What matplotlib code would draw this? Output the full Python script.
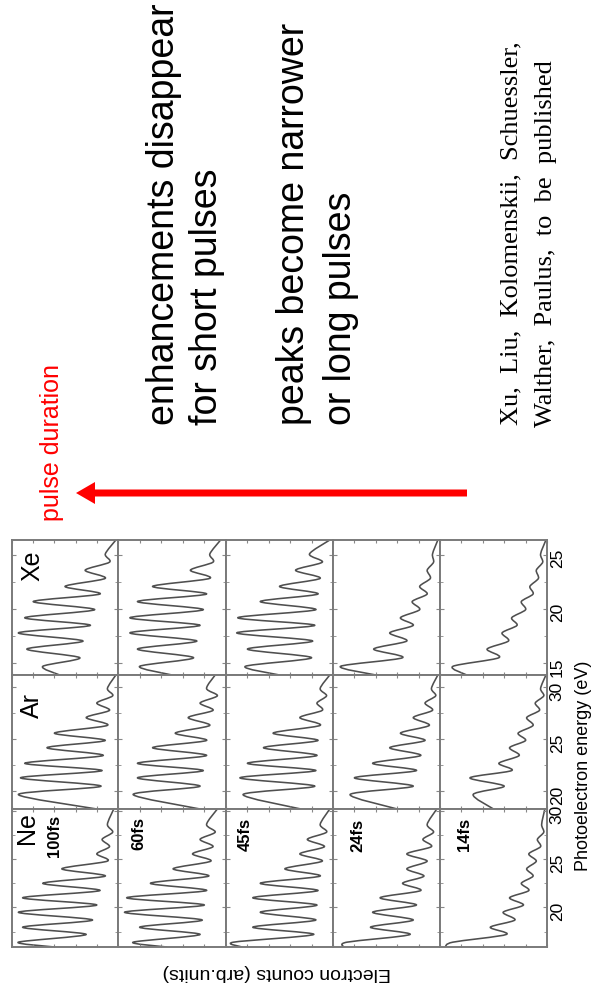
import matplotlib
matplotlib.use("Agg")
import matplotlib.pyplot as plt
from matplotlib.path import Path
from matplotlib.patches import PathPatch
from matplotlib.ticker import MultipleLocator

# ---------------------------------------------------------------- data
GASES = ["Xe", "Ar", "Ne"]
DURATIONS = ["100fs", "60fs", "45fs", "24fs", "14fs"]

# photoelectron energy (eV) of the ATI peaks and of the minima between them
# (first/last minimum entries are the ends of the recorded range)
XE_PEAK_EV = [25.1, 23.6, 22.1, 20.7, 19.2, 17.8, 16.3, 14.7]
XE_MIN_EV = [26.4, 24.35, 22.85, 21.4, 19.95, 18.5, 17.05, 15.5, 13.9]
AR_PEAK_EV = [29.9, 28.5, 27.1, 25.6, 24.2, 22.7, 21.3, 19.7]
AR_MIN_EV = [31.2, 29.2, 27.8, 26.35, 24.9, 23.45, 22.0, 20.5, 18.3]
NE_PEAK_EV = [28.6, 27.05, 25.55, 24.0, 22.5, 21.0, 19.5, 17.95, 16.4]
NE_MIN_EV = [30.2, 27.8, 26.3, 24.8, 23.25, 21.75, 20.25, 18.7, 17.2, 15.9]

# electron counts (arb. units) at the peaks, one list per pulse duration
XE_PEAK_COUNTS = [
    [0.12, 0.31, 0.50, 0.80, 0.88, 0.94, 0.86, 0.71],
    [0.15, 0.33, 0.68, 0.82, 0.89, 0.89, 0.82, 0.80],
    [0.22, 0.35, 0.50, 0.68, 0.89, 0.90, 0.80, 0.82],
    [0.07, 0.12, 0.19, 0.26, 0.37, 0.47, 0.62, 0.93],
    [0.06, 0.10, 0.16, 0.24, 0.33, 0.42, 0.56, 0.88],
]
XE_MIN_COUNTS = [
    [0.02, 0.08, 0.12, 0.17, 0.22, 0.26, 0.33, 0.36, 0.55],
    [0.05, 0.12, 0.15, 0.18, 0.21, 0.24, 0.27, 0.30, 0.50],
    [0.03, 0.10, 0.12, 0.14, 0.16, 0.17, 0.19, 0.20, 0.50],
    [0.02, 0.06, 0.09, 0.12, 0.19, 0.25, 0.31, 0.35, 0.60],
    [0.01, 0.04, 0.08, 0.13, 0.20, 0.28, 0.36, 0.45, 0.75],
]
AR_PEAK_COUNTS = [
    [0.10, 0.20, 0.30, 0.60, 0.67, 0.88, 0.92, 0.94],
    [0.18, 0.24, 0.35, 0.47, 0.68, 0.82, 0.82, 0.86],
    [0.12, 0.15, 0.31, 0.56, 0.65, 0.80, 0.87, 0.84],
    [0.08, 0.14, 0.25, 0.37, 0.47, 0.63, 0.80, 0.84],
    [0.06, 0.11, 0.19, 0.27, 0.35, 0.45, 0.72, 0.69],
]
AR_MIN_COUNTS = [
    [0.02, 0.05, 0.08, 0.10, 0.12, 0.14, 0.15, 0.16, 0.20],
    [0.10, 0.08, 0.12, 0.15, 0.18, 0.18, 0.21, 0.24, 0.24],
    [0.03, 0.06, 0.10, 0.12, 0.14, 0.15, 0.16, 0.17, 0.30],
    [0.02, 0.04, 0.07, 0.10, 0.14, 0.18, 0.22, 0.25, 0.40],
    [0.01, 0.03, 0.07, 0.13, 0.20, 0.26, 0.33, 0.40, 0.50],
]
NE_PEAK_COUNTS = [
    [0.10, 0.15, 0.20, 0.53, 0.71, 0.90, 0.94, 0.90, 0.94],
    [0.18, 0.24, 0.31, 0.49, 0.70, 0.92, 0.94, 0.80, 0.86],
    [0.12, 0.24, 0.31, 0.45, 0.68, 0.75, 0.68, 0.75, 0.93],
    [0.12, 0.16, 0.31, 0.31, 0.35, 0.56, 0.63, 0.65, 0.87],
    [0.05, 0.09, 0.17, 0.19, 0.24, 0.35, 0.41, 0.53, 0.88],
]
NE_MIN_COUNTS = [
    [0.04, 0.05, 0.08, 0.10, 0.12, 0.17, 0.20, 0.24, 0.30, 0.60],
    [0.08, 0.10, 0.12, 0.14, 0.16, 0.18, 0.20, 0.22, 0.24, 0.55],
    [0.03, 0.06, 0.08, 0.10, 0.12, 0.14, 0.15, 0.16, 0.18, 0.85],
    [0.03, 0.06, 0.08, 0.12, 0.15, 0.18, 0.22, 0.25, 0.28, 0.90],
    [0.02, 0.03, 0.06, 0.10, 0.13, 0.17, 0.22, 0.30, 0.38, 0.95],
]

SPECTRA = {
    "Xe": (XE_PEAK_EV, XE_MIN_EV, XE_PEAK_COUNTS, XE_MIN_COUNTS),
    "Ar": (AR_PEAK_EV, AR_MIN_EV, AR_PEAK_COUNTS, AR_MIN_COUNTS),
    "Ne": (NE_PEAK_EV, NE_MIN_EV, NE_PEAK_COUNTS, NE_MIN_COUNTS),
}

# ---------------------------------------------------------------- layout
W, H = 593, 991
fig = plt.figure(figsize=(W / 100, H / 100), dpi=100)
SANS = ["Liberation Sans", "DejaVu Sans"]
SERIF = ["Liberation Serif", "DejaVu Serif"]

COL_X = [12, 118, 226, 333, 440, 547]   # panel borders (pixels), one column per duration
ROW_Y = [540, 675, 809, 947]            # panel borders (pixels), one row per gas
LINE_GREY = "#4f4f4f"
FRAME_GREY = "#7a7a7a"


def trace(peak_ev, min_ev, peak_c, min_c):
    ev, cnt = [min_ev[0]], [min_c[0]]
    for i in range(len(peak_ev)):
        ev += [peak_ev[i], min_ev[i + 1]]
        cnt += [peak_c[i], min_c[i + 1]]
    return ev, cnt


def smooth_path(xs, ys, k=7.0):
    """Cubic Bezier path passing through every (x, y) point (Catmull-Rom style)."""
    pts = list(zip(xs, ys))
    n = len(pts)
    verts = [pts[0]]
    codes = [Path.MOVETO]
    for i in range(n - 1):
        p0 = pts[max(i - 1, 0)]
        p1 = pts[i]
        p2 = pts[i + 1]
        p3 = pts[min(i + 2, n - 1)]
        c1 = (p1[0] + (p2[0] - p0[0]) / k, p1[1] + (p2[1] - p0[1]) / k)
        c2 = (p2[0] - (p3[0] - p1[0]) / k, p2[1] - (p3[1] - p1[1]) / k)
        verts += [c1, c2, p2]
        codes += [Path.CURVE4] * 3
    return Path(verts, codes)


for r, gas in enumerate(GASES):
    peak_ev, min_ev, peak_c_all, min_c_all = SPECTRA[gas]
    for c, dur in enumerate(DURATIONS):
        x0, x1 = COL_X[c], COL_X[c + 1]
        y0, y1 = ROW_Y[r], ROW_Y[r + 1]
        ax = fig.add_axes([x0 / W, 1 - y1 / H, (x1 - x0) / W, (y1 - y0) / H])
        ev, cnt = trace(peak_ev, min_ev, peak_c_all[c], min_c_all[c])
        ax.add_patch(PathPatch(smooth_path(cnt, ev), fill=False,
                               edgecolor=LINE_GREY, lw=1.15,
                               joinstyle="round", capstyle="round"))
        ax.set_xlim(1.0, 0.0)
        ax.set_ylim(min(min_ev), max(min_ev))
        ax.yaxis.set_major_locator(MultipleLocator(5))
        ax.yaxis.set_minor_locator(MultipleLocator(2.5))
        ax.xaxis.set_major_locator(MultipleLocator(0.2))
        ax.tick_params(axis="x", which="both", direction="in", length=2,
                       top=True, bottom=True, labelbottom=False, color="#888888")
        ax.tick_params(axis="y", which="major", direction="in", length=3,
                       left=True, right=True, labelleft=False,
                       labelright=(c == len(DURATIONS) - 1), labelrotation=90,
                       labelsize=12.5, pad=2, color="#888888")
        ax.tick_params(axis="y", which="minor", direction="in", length=2,
                       left=True, right=True, color="#888888")
        for lab in ax.get_yticklabels():
            lab.set_fontfamily(SANS)
        for sp in ax.spines.values():
            sp.set_color(FRAME_GREY)
            sp.set_linewidth(1.4)

# overlay in pixel coordinates for annotations
ov = fig.add_axes([0, 0, 1, 1])
ov.set_xlim(0, W)
ov.set_ylim(H, 0)
ov.axis("off")

gas_pos = {"Xe": (32, 566), "Ar": (32, 705), "Ne": (27, 828)}
for gas in GASES:
    ov.text(*gas_pos[gas], gas, rotation=90, ha="center", va="center",
            fontsize=18, family=SANS)
dur_pos = [(54, 836), (139, 834), (245, 834), (358, 835), (465, 834)]
for (x, y), dur in zip(dur_pos, DURATIONS):
    ov.text(x, y, dur, rotation=90, ha="center", va="center",
            fontsize=12, fontweight="bold", family=SANS)

ov.text(583, 766, "Photoelectron energy (eV)", rotation=90, ha="center",
        va="center", fontsize=13, family=SANS)
ov.text(277, 973, "Electron counts (arb.units)", rotation=180, ha="center",
        va="center", fontsize=14, family=SANS)

# pulse-duration arrow
ov.arrow(467, 493, -391, 0, width=7, head_width=22, head_length=19,
         length_includes_head=True, color="#ff0000", lw=0)
ov.text(59, 521, "pulse duration", rotation=90, rotation_mode="anchor",
        ha="left", va="baseline", fontsize=18, color="#ff0000", family=SANS)

for x, line in [(174, "enhancements disappear"), (217, "for short pulses"),
                (304, "peaks become narrower"), (351, "or long pulses")]:
    ov.text(x, 425, line, rotation=90, rotation_mode="anchor",
            ha="left", va="baseline", fontsize=27, family=SANS)
ov.text(517, 425, "Xu,  Liu,  Kolomenskii,  Schuessler,", rotation=90,
        rotation_mode="anchor", ha="left", va="baseline", fontsize=19, family=SERIF)
ov.text(552, 427, "Walther,  Paulus,  to  be  published", rotation=90,
        rotation_mode="anchor", ha="left", va="baseline", fontsize=19, family=SERIF)

fig.savefig("out.png", dpi=100)
